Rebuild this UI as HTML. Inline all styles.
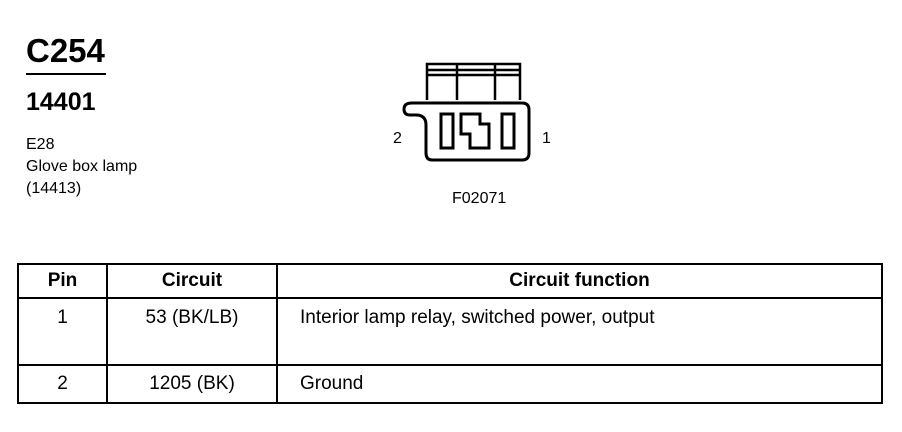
<!DOCTYPE html>
<html><head><style>
body{margin:0;width:902px;height:432px;background:#fff;font-family:"Liberation Sans",sans-serif;color:#000;position:relative;overflow:hidden}
.a{position:absolute;white-space:nowrap}
table{position:absolute;left:17px;top:263px;width:866px;height:140px;border-collapse:collapse}
td{border:2px solid #000;font-size:19px;padding:0}
</style></head><body>
<div class="a" style="left:26px;top:32px;font-size:33px;font-weight:bold">C254</div>
<div style="position:absolute;left:26px;top:73px;width:80px;height:2px;background:#000"></div>
<div class="a" style="left:26px;top:88px;font-size:25px;font-weight:bold">14401</div>
<div class="a" style="left:26px;top:134px;font-size:16px;line-height:22px">E28<br>Glove box lamp<br>(14413)</div>
<div class="a" style="left:393px;top:130px;font-size:16px">2</div>
<div class="a" style="left:542px;top:130px;font-size:16px">1</div>
<div class="a" style="left:452px;top:190px;font-size:16px">F02071</div>
<svg style="position:absolute;left:0;top:0" width="902" height="432">
<g fill="none" stroke="#000" stroke-width="3">
<path d="M427 100V64H520V100M427 70H520M427 75H520M457 64V100M495 64V100" stroke-width="2.5"/>
<path d="M412 103H522Q529 103 529 110V153Q529 160 522 160H432Q426 160 426 153V125Q426 115 416 115H410Q404 115 404 109Q404 103 412 103Z"/>
<rect x="441" y="114" width="12" height="34"/>
<rect x="502" y="114" width="12" height="34"/>
<path d="M461 114H480V124H489V148H470V134H461Z"/>
</g></svg>
<table>
<tr style="height:34px;font-weight:bold;text-align:center"><td style="width:87px">Pin</td><td style="width:168px">Circuit</td><td>Circuit function</td></tr>
<tr style="height:67px;vertical-align:top;line-height:38px"><td style="text-align:center">1</td><td style="text-align:center">53 (BK/LB)</td><td style="padding-left:22px">Interior lamp relay, switched power, output</td></tr>
<tr style="height:38px"><td style="text-align:center">2</td><td style="text-align:center">1205 (BK)</td><td style="padding-left:22px">Ground</td></tr>
</table>
</body></html>
